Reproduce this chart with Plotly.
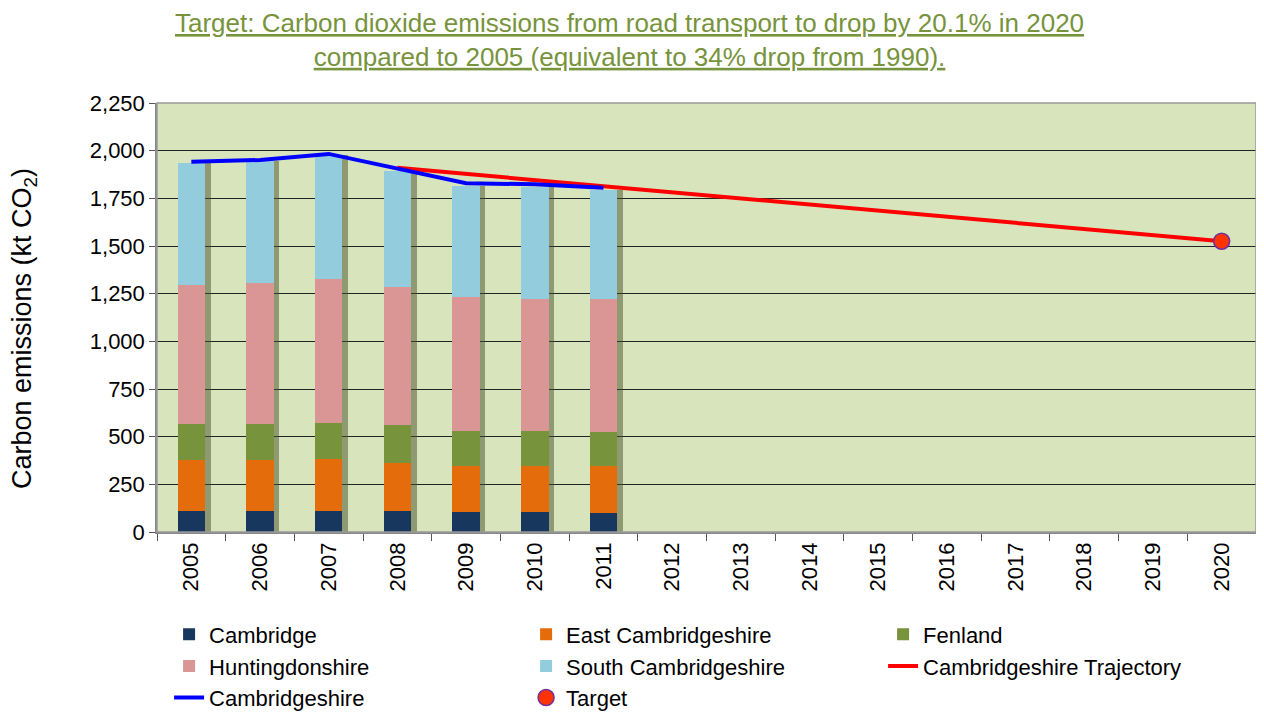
import plotly.graph_objects as go

years = [str(y) for y in range(2005, 2021)]
bar_years = [str(y) for y in range(2005, 2012)]

cambridge = [110, 110, 112, 110, 105, 105, 102]
east_cambs = [266, 266, 273, 254, 241, 241, 244]
fenland = [193, 193, 189, 196, 186, 186, 177]
huntingdonshire = [726, 738, 754, 723, 700, 688, 697]
south_cambs = [642, 638, 647, 612, 583, 590, 575]

cambridgeshire = [1942, 1951, 1983, 1904, 1829, 1824, 1806]
trajectory_years = ["2008", "2020"]
trajectory = [1910, 1525]
target_year = ["2020"]
target = [1525]

title_text = ("<u>Target: Carbon dioxide emissions from road transport to drop by 20.1% in 2020</u><br>"
              "<u>compared to 2005 (equivalent to 34% drop from 1990).</u>")
y_title = "Carbon emissions (kt CO<sub>2</sub>)"

FONT = "Liberation Sans, Arial, sans-serif"

totals = [a + b + c + d + e for a, b, c, d, e in
          zip(cambridge, east_cambs, fenland, huntingdonshire, south_cambs)]

fig = go.Figure()
# soft drop shadow behind the stacked columns (drawn on the base subplot)
fig.add_trace(go.Bar(x=bar_years, y=totals, showlegend=False, hoverinfo="skip",
                     marker=dict(color="rgba(70,80,40,0.5)", line=dict(width=0)),
                     width=0.4, offset=-0.12, xaxis="x", yaxis="y"))

bar_series = [
    ("Cambridge", cambridge, "#17375E"),
    ("East Cambridgeshire", east_cambs, "#E46C0A"),
    ("Fenland", fenland, "#77933C"),
    ("Huntingdonshire", huntingdonshire, "#D99694"),
    ("South Cambridgeshire", south_cambs, "#93CDDD"),
]
for name, vals, col in bar_series:
    fig.add_trace(go.Bar(x=bar_years, y=vals, name=name, marker=dict(color=col, line=dict(width=0)),
                         width=0.4, xaxis="x2", yaxis="y2"))

fig.add_trace(go.Scatter(x=trajectory_years, y=trajectory, name="Cambridgeshire Trajectory",
                         mode="lines", line=dict(color="#FF0000", width=4), xaxis="x2", yaxis="y2"))
fig.add_trace(go.Scatter(x=bar_years, y=cambridgeshire, name="Cambridgeshire",
                         mode="lines", line=dict(color="#0000FF", width=4), xaxis="x2", yaxis="y2"))
fig.add_trace(go.Scatter(x=target_year, y=target, name="Target", mode="markers",
                         marker=dict(color="#FF3300", size=16, line=dict(color="#7030A0", width=1.5)),
                         xaxis="x2", yaxis="y2"))

fig.update_layout(
    width=1248, height=704,
    barmode="stack",
    paper_bgcolor="white",
    plot_bgcolor="#D8E4BC",
    font=dict(family=FONT, color="#000000", size=22),
    margin=dict(l=149, r=0, t=95, b=180, autoexpand=False),
    showlegend=True,
    legend=dict(orientation="h", x=0.011, xanchor="left", y=-0.19, yanchor="top",
                traceorder="normal", entrywidth=312, entrywidthmode="pixels",
                font=dict(family=FONT, size=22, color="#000000"),
                itemwidth=30, tracegroupgap=0, bgcolor="rgba(0,0,0,0)"),
    xaxis=dict(
        type="category", categoryorder="array", categoryarray=years, range=[-0.5, 15.5],
        tickangle=-90, tickfont=dict(size=22, family=FONT),
        ticks="outside", tickson="boundaries", ticklen=7, tickcolor="#555555",
        showline=True, linecolor="#888888", linewidth=1.5, showgrid=False,
    ),
    yaxis=dict(
        range=[0, 2250], dtick=250, tickformat=",",
        tickfont=dict(size=22, family=FONT),
        showgrid=True, gridcolor="#222222", gridwidth=1,
        ticks="outside", ticklen=6, tickcolor="#555555",
        showline=True, linecolor="#888888", linewidth=1.5,
        zeroline=False,
    ),
    xaxis2=dict(type="category", categoryorder="array", categoryarray=years, range=[-0.5, 15.5],
                overlaying="x", matches="x", visible=False, showgrid=False),
    yaxis2=dict(range=[0, 2250], overlaying="y", matches="y", visible=False, showgrid=False,
                zeroline=False),
)
fig.add_annotation(text=title_text, xref="paper", yref="paper", x=0.43, y=1.225,
                   xanchor="center", yanchor="top", showarrow=False, align="center",
                   font=dict(family=FONT, size=26, color="#77933C"))
fig.add_annotation(text=y_title, xref="paper", yref="paper", x=-0.121, y=0.473,
                   xanchor="center", yanchor="middle", showarrow=False, textangle=-90,
                   font=dict(family=FONT, size=27, color="#000000"))
fig.add_shape(type="rect", xref="paper", yref="paper", x0=0, x1=1, y0=0, y1=1,
              line=dict(color="#999999", width=1.5), fillcolor="rgba(0,0,0,0)", layer="above")

fig.write_html("out.html")
